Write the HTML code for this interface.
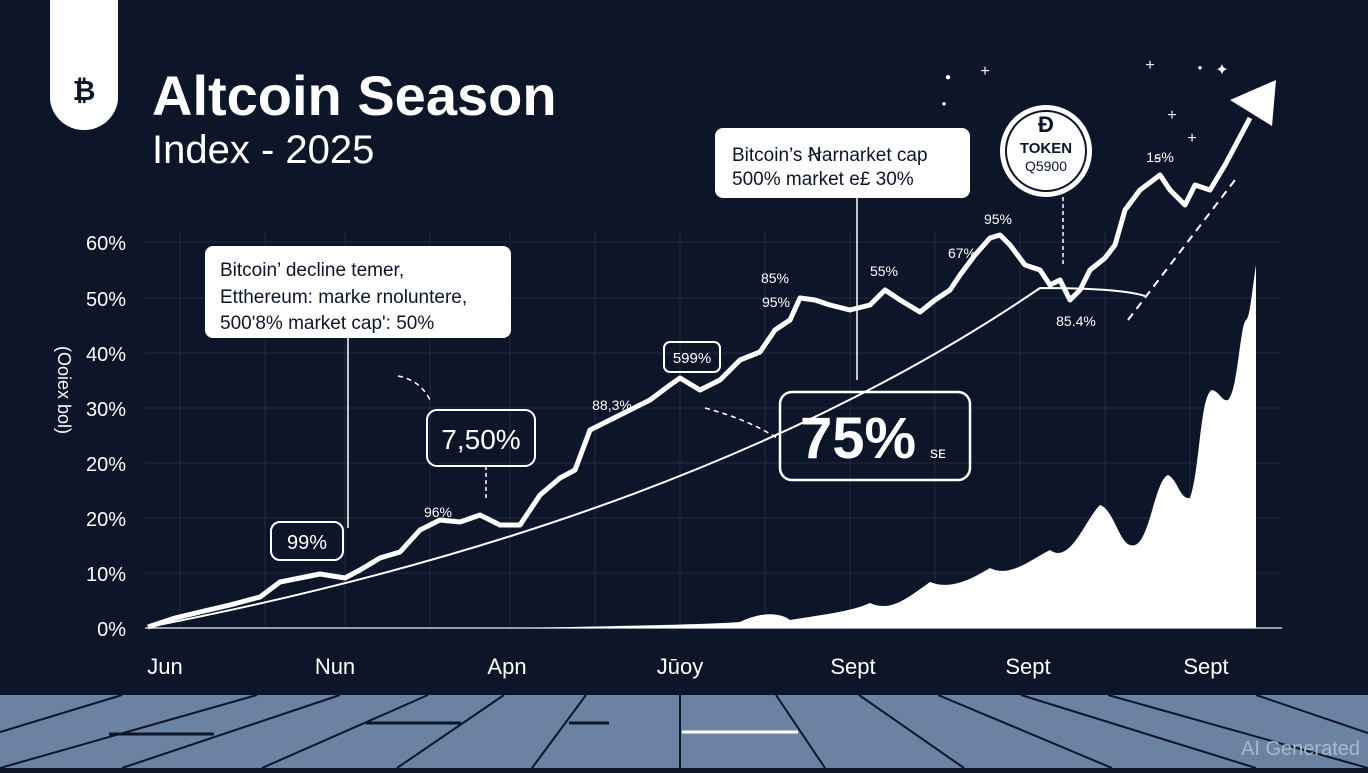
<!DOCTYPE html>
<html><head><style>
body{margin:0;width:1368px;height:768px;overflow:hidden;background:#0d1628;font-family:"Liberation Sans",sans-serif}
</style></head><body>
<svg width="1368" height="768" viewBox="0 0 1368 768" xmlns="http://www.w3.org/2000/svg" font-family="Liberation Sans, sans-serif">
<rect width="1368" height="768" fill="#0d1628"/>
<g stroke="#1f2a40" stroke-width="1">
<line x1="145" y1="242" x2="1280" y2="242"/><line x1="145" y1="298" x2="1280" y2="298"/>
<line x1="145" y1="353" x2="1280" y2="353"/><line x1="145" y1="408" x2="1280" y2="408"/>
<line x1="145" y1="463" x2="1280" y2="463"/><line x1="145" y1="518" x2="1280" y2="518"/>
<line x1="145" y1="573" x2="1280" y2="573"/>
<line x1="180" y1="230" x2="180" y2="628"/><line x1="265" y1="230" x2="265" y2="628"/><line x1="345" y1="230" x2="345" y2="628"/>
<line x1="430" y1="230" x2="430" y2="628"/><line x1="510" y1="230" x2="510" y2="628"/><line x1="595" y1="230" x2="595" y2="628"/>
<line x1="680" y1="230" x2="680" y2="628"/><line x1="765" y1="230" x2="765" y2="628"/><line x1="850" y1="230" x2="850" y2="628"/>
<line x1="935" y1="230" x2="935" y2="628"/><line x1="1020" y1="230" x2="1020" y2="628"/><line x1="1105" y1="230" x2="1105" y2="628"/><line x1="1190" y1="230" x2="1190" y2="628"/>
</g>
<line x1="145" y1="628" x2="1282" y2="628" stroke="#c8ccd4" stroke-width="1.5"/>
<path d="M50 0 H118 V100 a34 34 0 0 1 -34 30 a34 34 0 0 1 -34 -30 Z" fill="#fff"/>
<text x="84" y="100" font-size="28" font-weight="bold" text-anchor="middle" fill="#0d1628">₿</text>
<text x="152" y="115" font-size="56" font-weight="bold" fill="#fff">Altcoin Season</text>
<text x="152" y="163" font-size="40" fill="#fff">Index - 2025</text>
<g fill="#fff" font-size="20" text-anchor="end">
<text x="126" y="250">60%</text><text x="126" y="306">50%</text><text x="126" y="361">40%</text>
<text x="126" y="416">30%</text><text x="126" y="471">20%</text><text x="126" y="526">20%</text>
<text x="126" y="581">10%</text><text x="126" y="636">0%</text>
</g>
<text transform="translate(58,390) rotate(90)" fill="#fff" font-size="18" text-anchor="middle">(Ooiex bol)</text>
<g fill="#fff" font-size="22" text-anchor="middle">
<text x="165" y="674">Jun</text><text x="335" y="674">Nun</text><text x="507" y="674">Apn</text>
<text x="680" y="674">Jūoy</text><text x="853" y="674">Sept</text><text x="1028" y="674">Sept</text><text x="1206" y="674">Sept</text>
</g>
<rect x="0" y="695" width="1368" height="73" fill="#6b82a3"/>
<g stroke="#0d1628" stroke-width="2" fill="none">
<line x1="122" y1="695" x2="0" y2="732"/><line x1="257" y1="695" x2="0" y2="768"/>
<line x1="340" y1="695" x2="122" y2="768"/><line x1="428" y1="695" x2="262" y2="768"/>
<line x1="504" y1="695" x2="397" y2="768"/><line x1="586" y1="695" x2="532" y2="768"/>
<line x1="680" y1="695" x2="680" y2="768"/><line x1="776" y1="695" x2="825" y2="768"/>
<line x1="859" y1="695" x2="964" y2="768"/><line x1="938" y1="695" x2="1112" y2="768"/>
<line x1="1021" y1="695" x2="1256" y2="768"/><line x1="1108" y1="695" x2="1368" y2="768"/>
<line x1="1256" y1="695" x2="1368" y2="733"/>
<line x1="109" y1="734" x2="214" y2="734" stroke-width="3"/><line x1="366" y1="723" x2="461" y2="723" stroke-width="3"/><line x1="569" y1="723" x2="609" y2="723" stroke-width="3"/>
</g>
<line x1="682" y1="732" x2="798" y2="732" stroke="#fff" stroke-width="3"/>
<text x="1360" y="755" fill="#a9b8cc" font-size="20" text-anchor="end">AI Generated</text>
<path d="M530 628 C600 626 700 625 740 622 C760 612 780 612 790 620 C820 615 850 612 870 603 C890 612 905 600 930 582 C950 590 970 580 990 568 C1010 578 1030 560 1050 550 C1070 565 1085 520 1100 505 C1115 510 1120 550 1135 545 C1150 540 1155 480 1168 475 C1178 480 1180 500 1190 498 C1200 470 1200 395 1212 390 C1220 392 1222 402 1228 400 C1238 390 1240 325 1246 320 C1250 318 1252 290 1256 265 L1256 628 Z" fill="#fff"/>
<path d="M148 627 Q700 520 1040 288 Q1120 288 1145 296" stroke="#fff" stroke-width="2" fill="none"/>
<path d="M148 627 L175 618 L200 612 L230 605 L260 597 L280 582 L300 578 L320 574 L345 578 L360 570 L380 558 L400 552 L420 530 L440 520 L460 522 L480 515 L500 525 L520 525 L540 495 L560 478 L575 470 L590 430 L610 420 L630 410 L650 400 L670 385 L680 378 L700 390 L720 380 L740 360 L760 352 L775 330 L790 320 L800 298 L815 300 L830 305 L850 310 L870 305 L885 290 L900 300 L920 312 L935 300 L950 290 L960 275 L975 255 L990 238 L1000 235 L1010 245 L1025 265 L1040 270 L1050 285 L1060 280 L1070 300 L1080 290 L1090 270 L1105 258 L1115 245 L1125 210 L1140 190 L1160 175 L1170 190 L1185 205 L1195 185 L1210 190 L1225 165 L1250 118" stroke="#fff" stroke-width="5" fill="none" stroke-linejoin="round"/>
<polygon points="1276,80 1230,100 1272,126" fill="#fff"/>
<line x1="1128" y1="320" x2="1235" y2="180" stroke="#fff" stroke-width="2" stroke-dasharray="8 6"/>
<rect x="205" y="246" width="306" height="92" rx="8" fill="#fff"/>
<g fill="#0d1628" font-size="19"><text x="220" y="276">Bitcoin’ decline temer,</text><text x="220" y="303">Etthereum: marke rnoluntere,</text><text x="220" y="329">500'8% market cap': 50%</text></g>
<line x1="348" y1="338" x2="348" y2="528" stroke="#fff" stroke-width="1.5"/>
<rect x="715" y="128" width="255" height="70" rx="8" fill="#fff"/>
<g fill="#0d1628" font-size="19"><text x="732" y="161">Bitcoin’s Ꞥarnarket cap</text><text x="732" y="185">500% market e£ 30%</text></g>
<line x1="857" y1="198" x2="857" y2="380" stroke="#fff" stroke-width="1.5"/>
<rect x="271" y="522" width="72" height="38" rx="9" fill="none" stroke="#fff" stroke-width="2"/>
<text x="307" y="549" fill="#fff" font-size="20" text-anchor="middle">99%</text>
<rect x="427" y="410" width="108" height="56" rx="10" fill="none" stroke="#fff" stroke-width="2"/>
<text x="481" y="449" fill="#fff" font-size="28" text-anchor="middle">7,50%</text>
<rect x="664" y="342" width="56" height="30" rx="6" fill="none" stroke="#fff" stroke-width="2"/>
<text x="692" y="363" fill="#fff" font-size="15" text-anchor="middle">599%</text>
<rect x="780" y="392" width="190" height="88" rx="12" fill="none" stroke="#fff" stroke-width="2.5"/>
<text x="800" y="458" fill="#fff" font-size="58" font-weight="bold">75%</text>
<text x="930" y="458" fill="#fff" font-size="16">sᴇ</text>
<path d="M705 408 Q750 420 780 440" stroke="#fff" stroke-width="1.5" fill="none" stroke-dasharray="5 4"/>
<path d="M398 376 Q420 380 430 400" stroke="#fff" stroke-width="1.5" fill="none" stroke-dasharray="5 4"/>
<line x1="486" y1="466" x2="486" y2="498" stroke="#fff" stroke-width="1.5" stroke-dasharray="4 3"/>
<circle cx="1046" cy="151" r="46" fill="#fff"/>
<circle cx="1046" cy="151" r="40" fill="none" stroke="#0d1628" stroke-width="2"/>
<text x="1046" y="132" fill="#0d1628" font-size="22" font-weight="bold" text-anchor="middle">Ð</text>
<text x="1046" y="153" fill="#0d1628" font-size="15" font-weight="bold" text-anchor="middle">TOKEN</text>
<text x="1046" y="171" fill="#0d1628" font-size="14" text-anchor="middle">Q5900</text>
<line x1="1063" y1="197" x2="1063" y2="265" stroke="#fff" stroke-width="1.5" stroke-dasharray="4 3"/>
<g fill="#fff" font-size="14" text-anchor="middle">
<text x="438" y="517">96%</text><text x="612" y="410">88,3%</text><text x="776" y="307">95%</text>
<text x="775" y="283">85%</text><text x="884" y="276">55%</text><text x="962" y="258">67%</text>
<text x="998" y="224">95%</text><text x="1076" y="326">85.4%</text><text x="1160" y="162">1ꞩ%</text>
</g>
<g fill="#fff" font-size="16" text-anchor="middle">
<text x="985" y="76">+</text><text x="1150" y="70">+</text><text x="1172" y="120">+</text><text x="1222" y="75">✦</text><text x="1192" y="143">+</text>
<text x="948" y="80" font-size="10">●</text><text x="944" y="106" font-size="8">●</text><text x="1200" y="70" font-size="8">●</text>
</g>
</svg>
</body></html>
